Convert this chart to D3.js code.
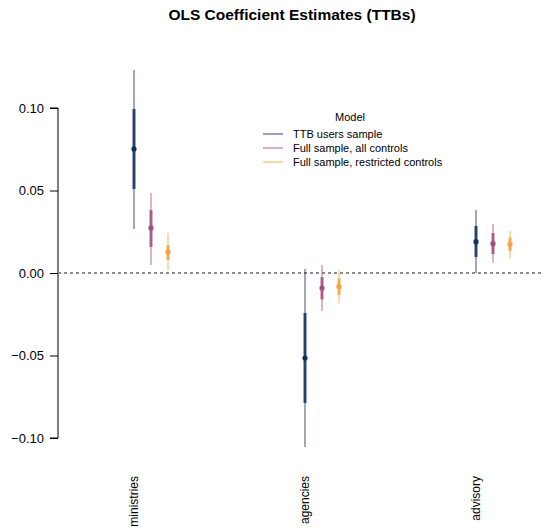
<!DOCTYPE html>
<html>
<head>
<meta charset="utf-8">
<title>OLS Coefficient Estimates (TTBs)</title>
<script src="https://cdn.jsdelivr.net/npm/d3@7/dist/d3.min.js"></script>
<style>
  body { margin: 0; background: #fff; }
  text { font-family: "Liberation Sans", Arial, Helvetica, sans-serif; fill: #000; }
  .title { font-size: 15.5px; font-weight: bold; }
  .legend text { font-size: 11px; }
</style>
</head>
<body>
<div id="chart"></div>
<script>
  var width = 545, height = 528;

  // data
  var categories = ["ministries", "agencies", "advisory"];
  var models = ["TTB users sample", "Full sample, all controls", "Full sample, restricted controls"];
  var colors = ["#12305f", "#a24e7d", "#f7a239"];

  // one array per model, values in category order
  var estimate = [
    [0.0752, -0.0515, 0.0190],
    [0.0273, -0.0091, 0.0178],
    [0.0127, -0.0083, 0.0174]
  ];
  var outerLo = [
    [0.0267, -0.1055, 0.0000],
    [0.0048, -0.0230, 0.0062],
    [0.0018, -0.0182, 0.0089]
  ];
  var outerHi = [
    [0.1230, 0.0024, 0.0382],
    [0.0485, 0.0048, 0.0297],
    [0.0242, 0.0014, 0.0255]
  ];
  var innerLo = [
    [0.0509, -0.0788, 0.0097],
    [0.0158, -0.0160, 0.0115],
    [0.0079, -0.0133, 0.0133]
  ];
  var innerHi = [
    [0.0994, -0.0242, 0.0285],
    [0.0382, -0.0025, 0.0242],
    [0.0170, -0.0033, 0.0215]
  ];
  var yTicks = [-0.10, -0.05, 0.00, 0.05, 0.10];

  var svg = d3.select("#chart").append("svg")
    .attr("width", width)
    .attr("height", height);

  var y = d3.scaleLinear().domain([-0.1, 0.1]).range([438, 108]);
  var x = d3.scalePoint().domain(categories).range([134, 476]);
  var dodge = d3.scalePoint().domain(models).range([0, 34]);

  // title
  svg.append("text")
    .attr("class", "title")
    .attr("x", 292)
    .attr("y", 20)
    .attr("text-anchor", "middle")
    .text("OLS Coefficient Estimates (TTBs)");

  // y axis
  var yAxis = d3.axisLeft(y)
    .tickValues(yTicks)
    .tickSize(8)
    .tickPadding(6);

  var ag = svg.append("g")
    .attr("transform", "translate(58,0)")
    .call(yAxis);
  ag.select(".domain").attr("d", "M-8," + y(0.1) + "H0V" + y(-0.1) + "H-8").attr("stroke", "#000");
  ag.selectAll(".tick text")
    .style("font-family", "'Liberation Sans', Arial, sans-serif")
    .style("font-size", "13px")
    .text(function(d) { return d3.format(".2f")(d).replace("-", "\u2212"); });

  // zero reference line
  svg.append("line")
    .attr("x1", 58).attr("x2", 541)
    .attr("y1", y(0)).attr("y2", y(0))
    .attr("stroke", "#8c8c8c")
    .attr("stroke-width", 2)
    .attr("stroke-dasharray", "3,3");

  // coefficient marks
  var rows = [];
  models.forEach(function(m, i) {
    categories.forEach(function(c, j) {
      rows.push({
        model: m, mi: i, cat: c,
        est: estimate[i][j],
        olo: outerLo[i][j], ohi: outerHi[i][j],
        ilo: innerLo[i][j], ihi: innerHi[i][j]
      });
    });
  });

  var cx = function(d) { return x(d.cat) + dodge(d.model); };

  var marks = svg.append("g").selectAll("g").data(rows).enter().append("g");

  marks.append("line")
    .attr("x1", cx).attr("x2", cx)
    .attr("y1", function(d) { return y(d.ohi); })
    .attr("y2", function(d) { return y(d.olo); })
    .attr("stroke", function(d) { return colors[d.mi]; })
    .attr("stroke-opacity", 0.55)
    .attr("stroke-width", 1.5);

  marks.append("line")
    .attr("x1", cx).attr("x2", cx)
    .attr("y1", function(d) { return y(d.ihi); })
    .attr("y2", function(d) { return y(d.ilo); })
    .attr("stroke", function(d) { return colors[d.mi]; })
    .attr("stroke-opacity", 0.85)
    .attr("stroke-width", 3);

  marks.append("circle")
    .attr("cx", cx)
    .attr("cy", function(d) { return y(d.est); })
    .attr("r", 2.6)
    .attr("fill", function(d) { return colors[d.mi]; });

  // category labels
  svg.append("g").selectAll("text").data(categories).enter().append("text")
    .attr("transform", function(d) { return "translate(" + x(d) + ",476) rotate(-90)"; })
    .attr("text-anchor", "end")
    .attr("dy", "0.35em")
    .style("font-size", "12px")
    .text(function(d) { return d; });

  // legend
  var legend = svg.append("g").attr("class", "legend");
  legend.append("text")
    .attr("x", 350).attr("y", 121)
    .attr("text-anchor", "middle")
    .text("Model");

  var items = legend.selectAll("g.item").data(models).enter().append("g")
    .attr("class", "item")
    .attr("transform", function(d, i) { return "translate(263," + (134 + i * 14) + ")"; });
  items.append("line")
    .attr("x1", 0).attr("x2", 20)
    .attr("stroke", function(d, i) { return colors[i]; })
    .attr("stroke-opacity", 0.6)
    .attr("stroke-width", 1.5);
  items.append("text")
    .attr("x", 30)
    .attr("dy", "0.35em")
    .text(function(d) { return d; });
</script>
</body>
</html>
